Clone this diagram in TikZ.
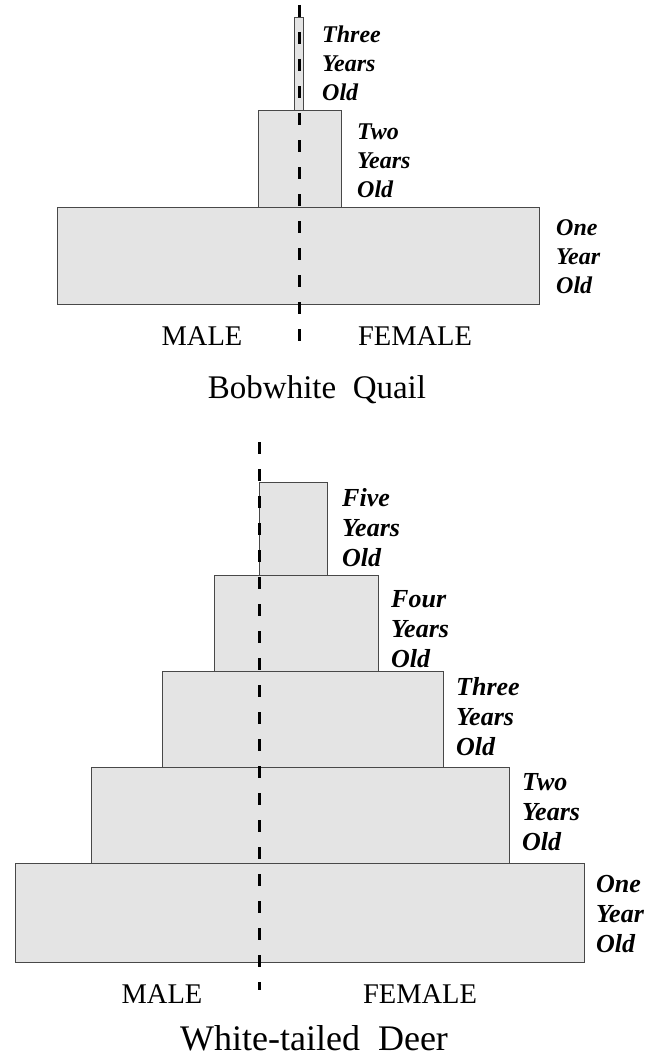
\documentclass[tikz,border=0pt]{standalone}
\usepackage{fontspec}
\setmainfont{Liberation Serif}
\definecolor{barfill}{HTML}{E4E4E4}
\definecolor{baredge}{HTML}{484848}
\tikzset{
  bar/.style={draw=baredge, fill=barfill, line width=0.8pt, inner sep=0pt, outer sep=0pt, anchor=north west, rectangle},
  divider/.style={line width=3pt, dash pattern=on 12pt off 15pt, black},
  qlabel/.style={font=\fontsize{24}{29}\selectfont\bfseries\itshape, align=left, anchor=north west, inner sep=0pt},
  dlabel/.style={font=\fontsize{26}{30}\selectfont\bfseries\itshape, align=left, anchor=north west, inner sep=0pt},
  sexlabel/.style={font=\fontsize{28.5}{33}\selectfont, anchor=base, inner sep=0pt},
  title/.style={anchor=base, inner sep=0pt}
}
\begin{document}
\begin{tikzpicture}[x=1pt, y=-1pt]
\useasboundingbox (0,0) rectangle (658,1057);
% ---------- Bobwhite Quail ----------
\node[bar, minimum width=9pt,   minimum height=93pt] (q3) at (294,17)  {};
\node[bar, minimum width=83pt,  minimum height=97pt] (q2) at (258,110) {};
\node[bar, minimum width=482pt, minimum height=97pt] (q1) at (57,207)  {};
\coordinate (qtop) at (299,5);
\coordinate (qbot) at (299,343);
\draw[divider] (qtop) -- (qbot);
\node[qlabel] (q3l) at (322,25.6) {Three\\Years\\Old};
\node[qlabel] (q2l) at (357,124)  {Two\\Years\\Old};
\node[qlabel] (q1l) at (556,219)  {One\\Year\\Old};
\node[sexlabel] (qmale) at (202,345) {MALE};
\node[sexlabel] (qfemale) at (415,345) {FEMALE};
\node[title, font=\fontsize{33}{38}\selectfont] (qtitle) at (317,398) {Bobwhite\ \ Quail};
% ---------- White-tailed Deer ----------
\node[bar, minimum width=68pt,  minimum height=93pt] (d5) at (259,482) {};
\node[bar, minimum width=164pt, minimum height=96pt] (d4) at (214,575) {};
\node[bar, minimum width=281pt, minimum height=96pt] (d3) at (162,671) {};
\node[bar, minimum width=418pt, minimum height=96pt] (d2) at (91,767)  {};
\node[bar, minimum width=569pt, minimum height=99pt] (d1) at (15,863)  {};
\coordinate (dtop) at (259.5,442);
\coordinate (dbot) at (259.5,990);
\draw[divider] (dtop) -- (dbot);
\node[dlabel] (d5l) at (342,488) {Five\\Years\\Old};
\node[dlabel] (d4l) at (391,590) {Four\\Years\\Old};
\node[dlabel] (d3l) at (456,677) {Three\\Years\\Old};
\node[dlabel] (d2l) at (522,773) {Two\\Years\\Old};
\node[dlabel] (d1l) at (596,875) {One\\Year\\Old};
\node[sexlabel] (dmale) at (162,1003) {MALE};
\node[sexlabel] (dfemale) at (420,1003) {FEMALE};
\node[title, font=\fontsize{36}{42}\selectfont] (dtitle) at (314,1050) {White-tailed\ \ Deer};
\end{tikzpicture}
\end{document}
